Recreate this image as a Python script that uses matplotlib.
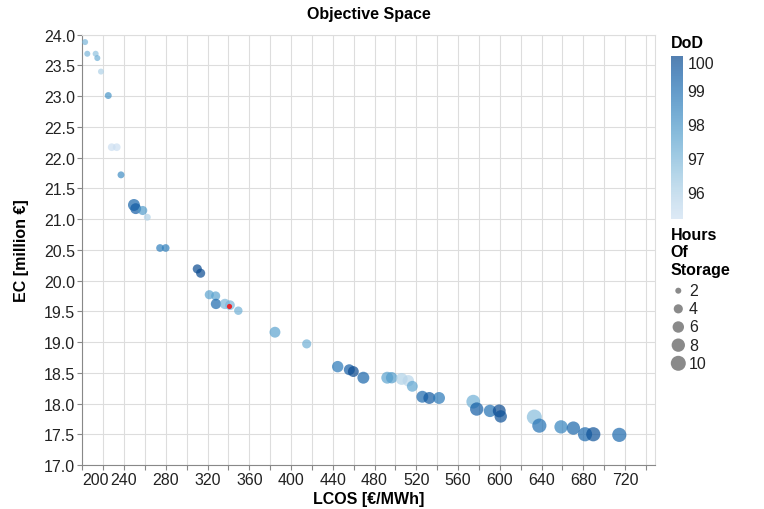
import matplotlib
matplotlib.use('Agg')
import matplotlib.pyplot as plt
import numpy as np
from matplotlib.colors import LinearSegmentedColormap, Normalize, to_rgba
from matplotlib.cm import ScalarMappable

plt.rcParams['font.family'] = ['Liberation Sans', 'DejaVu Sans']

# pareto front: levelised cost vs. equivalent cost, coloured by depth of discharge,
# sized by hours of storage
lcos = [202.7, 204.8, 212.8, 214.4, 217.9, 224.9, 228.2, 233.0, 237.1,
        249.5, 251.2, 257.9, 262.3, 274.5, 279.9, 310.2, 313.4, 321.7, 327.8,
        328.1, 336.7, 341.5, 349.5, 384.6, 415.0, 444.7, 455.8, 459.7, 469.3,
        492.2, 496.4, 506.0, 512.4, 516.2, 525.8, 532.5, 541.8, 574.6, 577.9,
        590.6, 599.5, 600.9, 633.1, 637.9, 658.7, 670.5, 681.7, 689.6, 714.5]
ec = [23.88, 23.69, 23.69, 23.62, 23.40, 23.01, 22.17, 22.17, 21.72,
      21.23, 21.17, 21.14, 21.03, 20.53, 20.53, 20.19, 20.12, 19.77, 19.75,
      19.62, 19.62, 19.60, 19.51, 19.16, 18.97, 18.60, 18.55, 18.52, 18.42,
      18.42, 18.42, 18.40, 18.37, 18.28, 18.11, 18.09, 18.09, 18.03, 17.91,
      17.88, 17.88, 17.79, 17.78, 17.64, 17.62, 17.60, 17.50, 17.50, 17.49]
dod = [97.0, 97.0, 96.6, 97.2, 96.0, 98.0, 95.3, 95.3, 98.2,
       99.3, 99.5, 97.8, 96.0, 98.6, 98.6, 100.0, 100.0, 97.6, 97.6,
       99.2, 97.0, 97.0, 97.2, 97.6, 97.2, 98.8, 99.5, 100.0, 99.3,
       97.6, 97.8, 96.0, 95.8, 97.5, 99.2, 99.6, 98.8, 97.2, 99.5,
       99.0, 100.0, 99.8, 96.8, 99.0, 98.5, 99.3, 99.2, 99.8, 99.2]
hos = [2, 2, 2, 2, 2, 2.5, 3, 3, 2.5,
       6.5, 5.5, 4, 2.5, 3, 3, 4, 4, 4, 4,
       5, 5, 4.5, 3.5, 5.5, 4, 6, 5.5, 5.5, 6.5,
       6.5, 6, 6.5, 6, 5.5, 6.5, 6.5, 6.5, 8.5, 8,
       7, 7.5, 7, 10, 9, 8, 8, 9, 9, 9]

# selected solution
sel_lcos = [340.9]
sel_ec = [19.58]

dod_min, dod_max = 95.2, 100.0
size_ticks = [2, 4, 6, 8, 10]
dod_ticks = [96, 97, 98, 99, 100]

blues = ["#cfe1f2", "#bed8ec", "#a8cee5", "#8fc1de", "#74b2d7", "#5ba3cf",
         "#4592c6", "#3181bd", "#206fb2", "#125ca4", "#0a4a90"]
cmap = LinearSegmentedColormap.from_list('blues_a', [to_rgba(c, 0.7) for c in blues])
norm = Normalize(dod_min, dod_max)


def marker_size(h):
    # circle area grows linearly with storage hours (area in px^2 -> pt^2)
    area_px = 23.6 * np.asarray(h, dtype=float) - 11
    return area_px * 0.72 ** 2


fs = 11.5
fig = plt.figure(figsize=(7.64, 5.10), dpi=100)
ax = fig.add_axes([0.1077, 0.0863, 0.7496, 0.8437])

ax.scatter(lcos, ec, c=dod, cmap=cmap, norm=norm, s=marker_size(hos), linewidths=0, zorder=3)
ax.scatter(sel_lcos, sel_ec, color='#e8262a', s=marker_size(1.6), linewidths=0, zorder=4)

ax.set_xlim(200, 748.7)
ax.set_ylim(17, 24)
xt = np.arange(200, 741, 20)
ax.set_xticks(xt)
ax.set_xticklabels([str(v) if (v - 200) % 40 == 0 else '' for v in xt])
ax.get_xticklabels()[0].set_ha('left')
yt = np.arange(17, 24.01, 0.5)
ax.set_yticks(yt)
ax.set_yticklabels(['%.1f' % v for v in yt])

ax.grid(True, color='#dddddd', linewidth=0.8, zorder=0)
ax.set_axisbelow(True)
for s in ['top', 'right']:
    ax.spines[s].set_color('#dddddd')
    ax.spines[s].set_linewidth(0.8)
for s in ['left', 'bottom']:
    ax.spines[s].set_color('#888888')
    ax.spines[s].set_linewidth(0.8)
ax.tick_params(length=3.6, width=0.8, color='#888888', labelsize=fs, labelcolor='#222222', pad=1.5)

ax.set_xlabel('LCOS [€/MWh]', fontsize=fs, fontweight='bold', labelpad=3)
ax.set_ylabel('EC [million €]', fontsize=fs, fontweight='bold', labelpad=11)
ax.set_title('Objective Space', fontsize=fs, fontweight='bold', pad=12)

# colour legend
cax = fig.add_axes([670.7 / 764, 1 - 220 / 510, 12.6 / 764, 163 / 510])
cb = fig.colorbar(ScalarMappable(norm=norm, cmap=cmap), cax=cax, ticks=dod_ticks)
cb.outline.set_visible(False)
cax.tick_params(length=0, pad=3, labelsize=fs, labelcolor='#222222')
cax.get_yticklabels()[-1].set_va('top')
fig.text(670.7 / 764, 1 - 43.7 / 510, 'DoD', fontsize=fs, fontweight='bold', va='center', ha='left')

# size legend
lax = fig.add_axes([0, 0, 1, 1], facecolor='none')
lax.set_xlim(0, 764)
lax.set_ylim(510, 0)
lax.axis('off')
fig.text(670.7 / 764, 1 - 228 / 510, 'Hours\nOf\nStorage', fontsize=fs, fontweight='bold',
         va='top', ha='left', linespacing=1.2)
leg_y = 291.7 + 18.15 * np.arange(len(size_ticks))
lax.scatter(np.full(len(size_ticks), 678.3), leg_y, s=marker_size(size_ticks),
            color='#8a8a8a', linewidths=0)
for yy, v in zip(leg_y, size_ticks):
    lax.text(689, yy, str(v), fontsize=fs, va='center', ha='left', color='#222222')

fig.savefig('out.png', dpi=100)
